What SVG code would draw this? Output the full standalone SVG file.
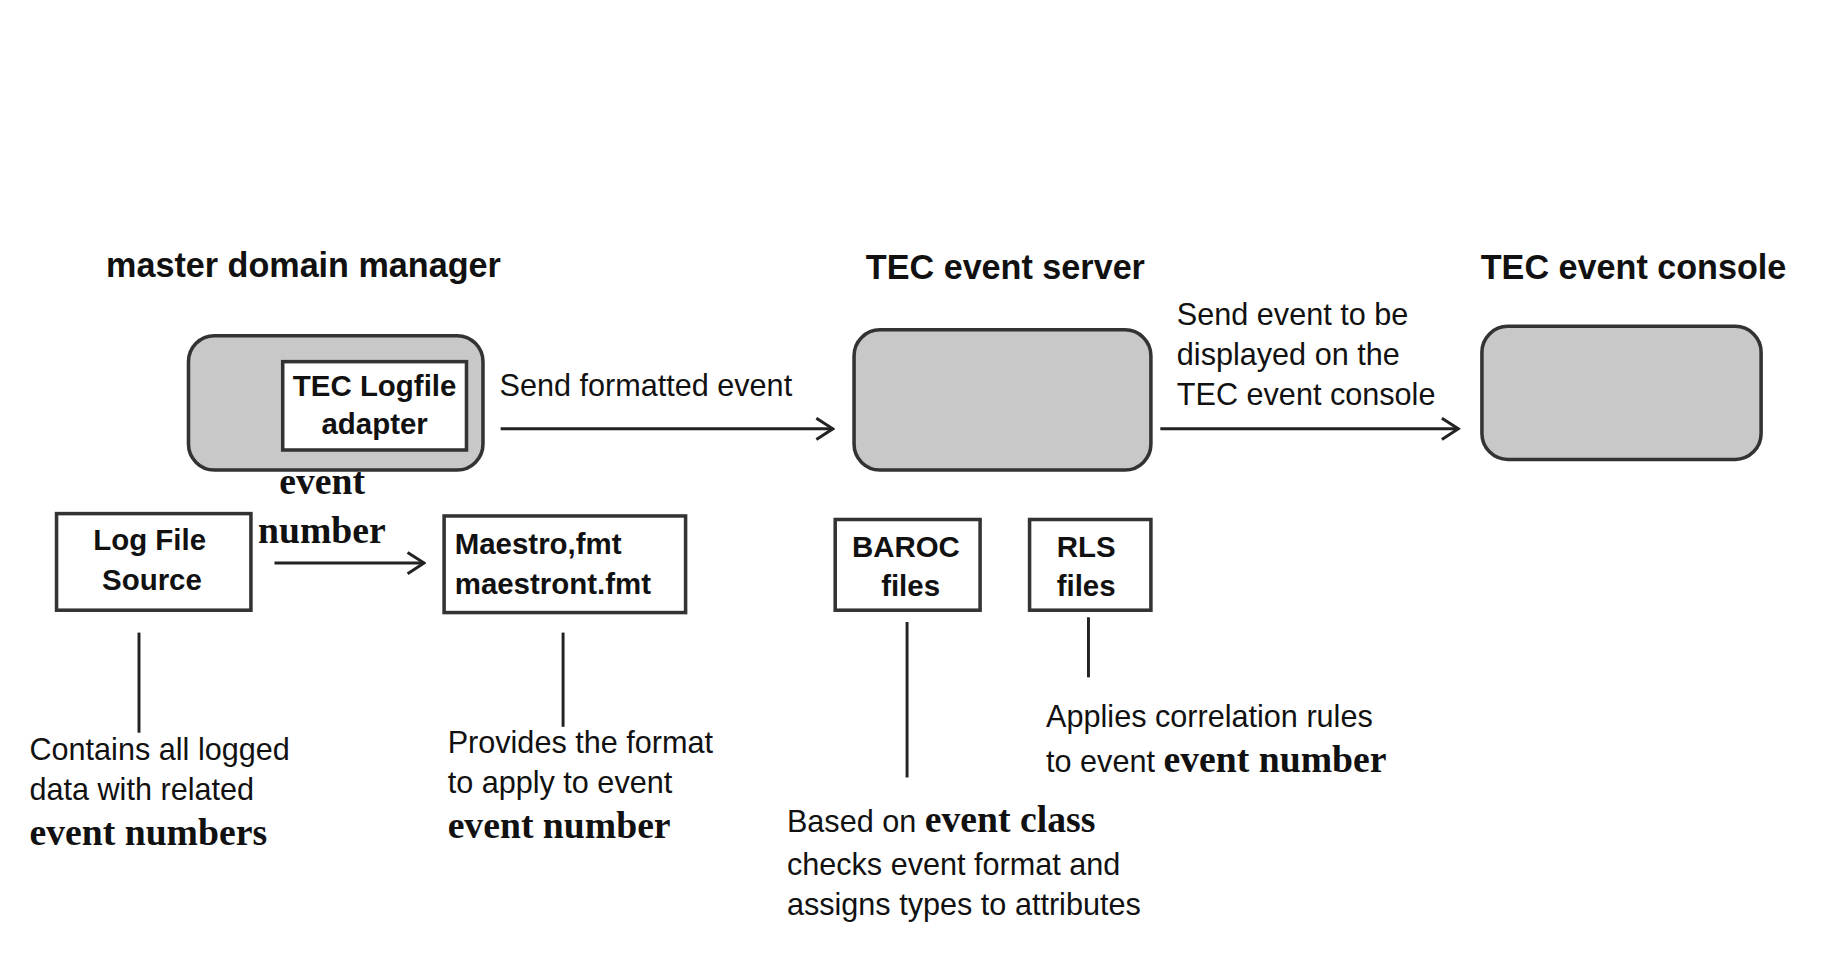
<svg xmlns="http://www.w3.org/2000/svg" width="1846" height="962" viewBox="0 0 1846 962">
<defs>
<style>
.h{font-family:"Liberation Sans",Arial,sans-serif;font-weight:bold;font-size:29px;fill:#111}
.b{font-family:"Liberation Sans",Arial,sans-serif;font-weight:bold;font-size:25px;fill:#111}
.t{font-family:"Liberation Sans",Arial,sans-serif;font-size:26px;fill:#111}
.s{font-family:"Liberation Serif","Times New Roman",serif;font-weight:bold;font-size:32px;fill:#111}
.g{fill:#c8c8c8;stroke:#333;stroke-width:3}
.w{fill:#fff;stroke:#333;stroke-width:3}
.l{stroke:#222;stroke-width:2.5;fill:none}
</style>
<marker id="a" markerWidth="20" markerHeight="20" refX="18" refY="10" orient="auto" markerUnits="userSpaceOnUse"><path d="M4,1 L18,10 L4,19" fill="none" stroke="#222" stroke-width="2.5"/></marker>
</defs>
<rect width="1846" height="962" fill="#fff"/>
<g transform="scale(1.178)">
<text class="h" x="90" y="235">master domain manager</text>
<text class="h" x="735" y="237">TEC event server</text>
<text class="h" x="1257" y="237">TEC event console</text>
<g id="mdm"><rect class="g" x="160" y="285" width="250" height="114" rx="22"/></g>
<g id="adapter"><rect class="w" x="240" y="307" width="156" height="75"/>
<text class="b" x="318" y="336" text-anchor="middle">TEC Logfile</text><text class="b" x="318" y="368" text-anchor="middle">adapter</text></g>
<g id="server"><rect class="g" x="725" y="280" width="252" height="119" rx="22"/></g>
<g id="console"><rect class="g" x="1258" y="277" width="237" height="113" rx="22"/></g>
<g id="logfile"><rect class="w" x="48" y="436" width="165" height="82"/>
<text class="b" x="127" y="467" text-anchor="middle">Log File</text><text class="b" x="129" y="501" text-anchor="middle">Source</text></g>
<g id="maestro"><rect class="w" x="377" y="438" width="205" height="82"/>
<text class="b" x="386" y="470">Maestro,fmt</text><text class="b" x="386" y="504">maestront.fmt</text></g>
<g id="baroc"><rect class="w" x="709" y="441" width="123" height="77"/>
<text class="b" x="769" y="473" text-anchor="middle">BAROC</text><text class="b" x="773" y="506" text-anchor="middle">files</text></g>
<g id="rls"><rect class="w" x="874" y="441" width="103" height="77"/>
<text class="b" x="897" y="473">RLS</text><text class="b" x="897" y="506">files</text></g>
<g id="connectors">
<line class="l" x1="425" y1="364" x2="707" y2="364" marker-end="url(#a)"/>
<line class="l" x1="985" y1="364" x2="1238" y2="364" marker-end="url(#a)"/>
<line class="l" x1="233" y1="478" x2="360" y2="478" marker-end="url(#a)"/>
<line class="l" x1="118" y1="537" x2="118" y2="622"/>
<line class="l" x1="478" y1="537" x2="478" y2="617"/>
<line class="l" x1="770" y1="528" x2="770" y2="660"/>
<line class="l" x1="924" y1="524" x2="924" y2="575"/>
</g>
<text class="t" x="424" y="336">Send formatted event</text>
<text class="t" x="999" y="276">Send event to be</text>
<text class="t" x="999" y="310">displayed on the</text>
<text class="t" x="999" y="344">TEC event console</text>
<text class="s" x="237" y="419">event</text>
<text class="s" x="219" y="461">number</text>
<text class="t" x="25" y="645">Contains all logged</text>
<text class="t" x="25" y="679">data with related</text>
<text class="s" x="25" y="717">event numbers</text>
<text class="t" x="380" y="639">Provides the format</text>
<text class="t" x="380" y="673">to apply to event</text>
<text class="s" x="380" y="711">event number</text>
<text x="668" y="706"><tspan class="t">Based on </tspan><tspan class="s">event class</tspan></text>
<text class="t" x="668" y="743">checks event format and</text>
<text class="t" x="668" y="777">assigns types to attributes</text>
<text class="t" x="888" y="617">Applies correlation rules</text>
<text x="888" y="655"><tspan class="t">to event </tspan><tspan class="s">event number</tspan></text>
</g>
</svg>
